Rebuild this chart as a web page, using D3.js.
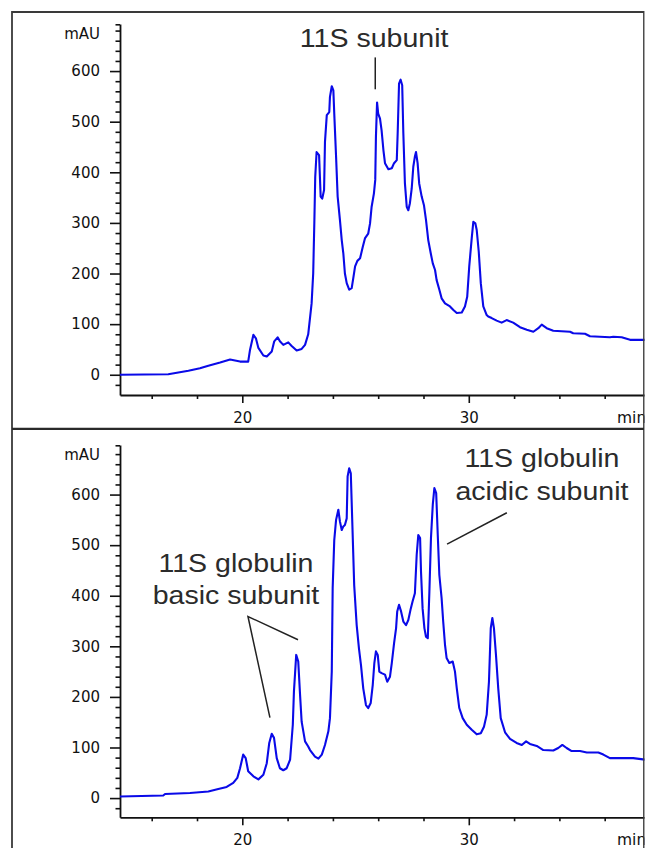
<!DOCTYPE html>
<html><head><meta charset="utf-8">
<script src="https://cdn.jsdelivr.net/npm/d3@7/dist/d3.min.js"></script>
<style>html,body{margin:0;padding:0;background:#fff;} svg{display:block}</style>
</head><body>
<svg id="chart" width="646" height="848"></svg>
<script>
// ---------- data (retention time in min, absorbance in mAU) ----------
const topTime = [14.60,16.73,17.62,18.13,18.50,19.02,19.46,19.68,19.90,20.26,
  20.34,20.49,20.60,20.71,20.93,21.08,21.30,21.41,21.56,21.66,
  21.81,22.03,22.18,22.40,22.62,22.77,22.91,23.06,23.13,23.18,
  23.22,23.28,23.39,23.46,23.53,23.61,23.65,23.73,23.84,23.87,
  23.95,24.02,24.06,24.14,24.21,24.31,24.39,24.46,24.53,24.61,
  24.72,24.83,24.90,24.98,25.08,25.20,25.32,25.42,25.56,25.64,
  25.71,25.81,25.87,25.90,25.95,26.00,26.08,26.15,26.23,26.30,
  26.45,26.60,26.70,26.82,26.86,26.92,26.99,27.06,27.11,27.18,
  27.26,27.33,27.40,27.48,27.55,27.62,27.67,27.74,27.81,27.92,
  28.02,28.11,28.21,28.32,28.41,28.51,28.58,28.70,28.80,28.95,
  29.17,29.32,29.47,29.69,29.83,29.93,30.02,30.13,30.20,30.29,
  30.35,30.44,30.53,30.64,30.79,30.86,31.01,31.23,31.45,31.67,
  31.96,32.26,32.56,32.85,33.07,33.22,33.44,33.73,34.47,34.61,
  35.13,35.35,36.23,36.38,36.75,37.12,37.78];
const topSignal = [0,1,8,13,18,24,30,28,26,26,
  49,79,72,53,38,36,46,66,74,66,
  59,64,57,48,51,59,80,141,200,300,
  391,440,434,352,348,365,460,513,519,549,
  570,562,516,431,352,306,266,240,200,181,
  168,171,191,214,225,230,253,270,279,299,
  332,358,385,470,538,516,506,483,444,418,
  406,408,418,424,477,575,583,572,477,378,
  332,325,339,368,411,431,440,418,378,352,
  335,306,266,240,220,207,187,168,151,141,
  135,128,122,123,135,154,214,270,302,299,
  286,243,181,135,118,115,112,107,103,108,
  103,94,89,85,92,99,92,87,85,82,
  81,76,74,75,74,69,69];

const bottomTime = [14.60,16.51,16.59,17.69,18.50,18.94,19.31,19.60,19.78,19.90,
  20.04,20.15,20.26,20.49,20.71,20.93,21.08,21.19,21.30,21.40,
  21.52,21.66,21.81,21.96,22.11,22.23,22.28,22.38,22.47,22.55,
  22.62,22.77,22.91,22.99,23.21,23.36,23.51,23.65,23.80,23.87,
  23.95,23.99,24.06,24.14,24.24,24.31,24.39,24.46,24.53,24.61,
  24.65,24.72,24.79,24.86,24.94,25.05,25.15,25.24,25.34,25.46,
  25.56,25.67,25.76,25.83,25.90,25.98,26.05,26.15,26.30,26.40,
  26.52,26.60,26.70,26.79,26.84,26.92,27.01,27.11,27.23,27.33,
  27.44,27.52,27.62,27.70,27.77,27.85,27.89,27.96,28.04,28.11,
  28.19,28.26,28.33,28.41,28.48,28.56,28.63,28.70,28.80,28.87,
  28.95,29.02,29.14,29.29,29.39,29.47,29.58,29.73,29.91,30.13,
  30.35,30.53,30.67,30.79,30.89,30.97,31.04,31.11,31.20,31.30,
  31.41,31.60,31.82,32.11,32.34,32.53,32.70,33.00,33.29,33.73,
  33.95,34.13,34.32,34.54,34.91,35.21,35.72,35.94,36.23,37.26,
  37.78];
const bottomSignal = [3,5,8,10,13,18,22,30,40,59,
  86,79,53,43,37,46,69,109,127,119,
  79,59,55,59,76,145,211,283,270,204,
  151,112,102,95,82,78,86,105,132,158,
  250,415,510,550,570,547,530,537,540,553,
  636,652,642,540,421,342,296,263,217,184,
  178,188,224,267,290,283,250,247,244,230,
  240,267,306,336,369,382,369,349,342,352,
  375,389,405,481,520,514,448,375,336,319,
  316,408,514,580,613,603,520,441,395,349,
  303,277,267,270,250,217,178,158,145,135,
  126,128,141,165,230,336,356,336,283,217,
  158,130,117,109,105,112,107,103,95,94,
  99,105,99,93,93,90,90,86,79,79,
  76];

const yMajorTicks = [0,100,200,300,400,500,600];
const yMinorTicks = [-20,20,40,60,80,120,140,160,180,220,240,260,280,320,340,360,380,
  420,440,460,480,520,540,560,580,620,640,660,680];
const xMajorTicks = [20,30];
const xMinorTicks = [16,18,22,24,26,28,32,34,36];
const yUnitLabel = "mAU";
const xUnitLabel = "min";
const topLabel = ["11S subunit"];
const acidicLabel = ["11S globulin","acidic subunit"];
const basicLabel = ["11S globulin","basic subunit"];

// ---------- layout ----------
const W = 646, H = 848;
const svg = d3.select("#chart");
const x = d3.scaleLinear().domain([14.6, 37.78]).range([120, 645]);

svg.append("defs").append("clipPath").attr("id","clip")
  .append("rect").attr("x",0).attr("y",0).attr("width",644.5).attr("height",H);
const root = svg.append("g").attr("clip-path","url(#clip)");

const panels = [
  {time: topTime, signal: topSignal, yDomain: [-40, 693], yRange: [395, 24]},
  {time: bottomTime, signal: bottomSignal, yDomain: [-38, 698], yRange: [817.3, 445]}
];

const tickFont = "'DejaVu Sans', Verdana, sans-serif";
const axisColor = "#111";

panels.forEach(p => {
  const y = d3.scaleLinear().domain(p.yDomain).range(p.yRange);
  p.y = y;
  const g = root.append("g");

  const yMin = g.append("g").attr("transform","translate(120,0)")
    .call(d3.axisLeft(y).tickValues(yMinorTicks).tickSize(4.5).tickSizeOuter(0).tickFormat(""));
  yMin.select(".domain").remove();
  const yMaj = g.append("g").attr("transform","translate(120,0)")
    .call(d3.axisLeft(y).tickValues(yMajorTicks).tickSize(10).tickPadding(10).tickSizeOuter(0));
  g.append("line").attr("x1",115.5).attr("x2",120)
    .attr("y1",y(p.yDomain[1])+0.8).attr("y2",y(p.yDomain[1])+0.8);

  const xMin = g.append("g").attr("transform",`translate(0,${p.yRange[0]})`)
    .call(d3.axisBottom(x).tickValues(xMinorTicks).tickSize(4).tickSizeOuter(0).tickFormat(""));
  xMin.select(".domain").remove();
  const xMaj = g.append("g").attr("transform",`translate(0,${p.yRange[0]})`)
    .call(d3.axisBottom(x).tickValues(xMajorTicks).tickSize(8).tickPadding(9).tickSizeOuter(0));

  [yMin, yMaj, xMin, xMaj].forEach(a => {
    a.selectAll("line").attr("stroke", axisColor).attr("stroke-width",1.6);
    a.selectAll(".domain").attr("stroke", axisColor).attr("stroke-width",1.8);
    a.selectAll("text").attr("fill","#111").style("font-family",tickFont).style("font-size","15px");
  });
  g.selectAll(":scope > line").attr("stroke",axisColor).attr("stroke-width",1.6);

  g.append("text").attr("x",100).attr("y",p.yRange[1]+10).attr("dy","0.35em")
    .attr("text-anchor","end").attr("fill","#111")
    .style("font-family",tickFont).style("font-size","15px").text(yUnitLabel);
  g.append("text").attr("x",617).attr("y",p.yRange[0]+27.7)
    .attr("fill","#111").style("font-family",tickFont).style("font-size","15.5px").text(xUnitLabel);

  const line = d3.line().x(d => x(d[0])).y(d => y(d[1]));
  g.append("path").datum(d3.zip(p.time, p.signal))
    .attr("d", line).attr("fill","none")
    .attr("stroke","#0a0ae8").attr("stroke-width",2.1)
    .attr("stroke-linejoin","round");
});

// frame
root.append("path").attr("d",`M12,${H}V12H644V${H}`)
  .attr("fill","none").attr("stroke","#3a3a3a").attr("stroke-width",1.8);
root.append("line").attr("x1",12).attr("x2",644).attr("y1",428.8).attr("y2",428.8)
  .attr("stroke","#2a2a2a").attr("stroke-width",2.2);

// annotations (positioned in data coordinates through the scales)
const annFont = "'Liberation Sans', Arial, sans-serif";
function label(lines, t, baseV, stepV, yScale) {
  lines.forEach((s, i) => {
    root.append("g")
      .attr("transform", `translate(${x(t)},${yScale(baseV - i*stepV)}) scale(1.12,1)`)
      .append("text").attr("text-anchor","middle").attr("fill","#2b2b2b")
      .style("font-family",annFont).style("font-size","25.5px").text(s);
  });
}
function leader(pts, yScale) {
  root.append("path")
    .attr("d", d3.line().x(d => x(d[0])).y(d => yScale(d[1]))(pts))
    .attr("fill","none").attr("stroke","#222").attr("stroke-width",1.5);
}
const yTop = panels[0].y, yBot = panels[1].y;
label(topLabel, 25.82, 647, 0, yTop);
leader([[25.87, 627], [25.87, 564]], yTop);

label(acidicLabel, 33.23, 655, 65, yBot);
leader([[31.68, 564], [29.04, 502]], yBot);

label(basicLabel, 19.72, 447, 63.5, yBot);
leader([[21.22, 159], [20.25, 359], [22.46, 313]], yBot);
</script>
</body></html>
